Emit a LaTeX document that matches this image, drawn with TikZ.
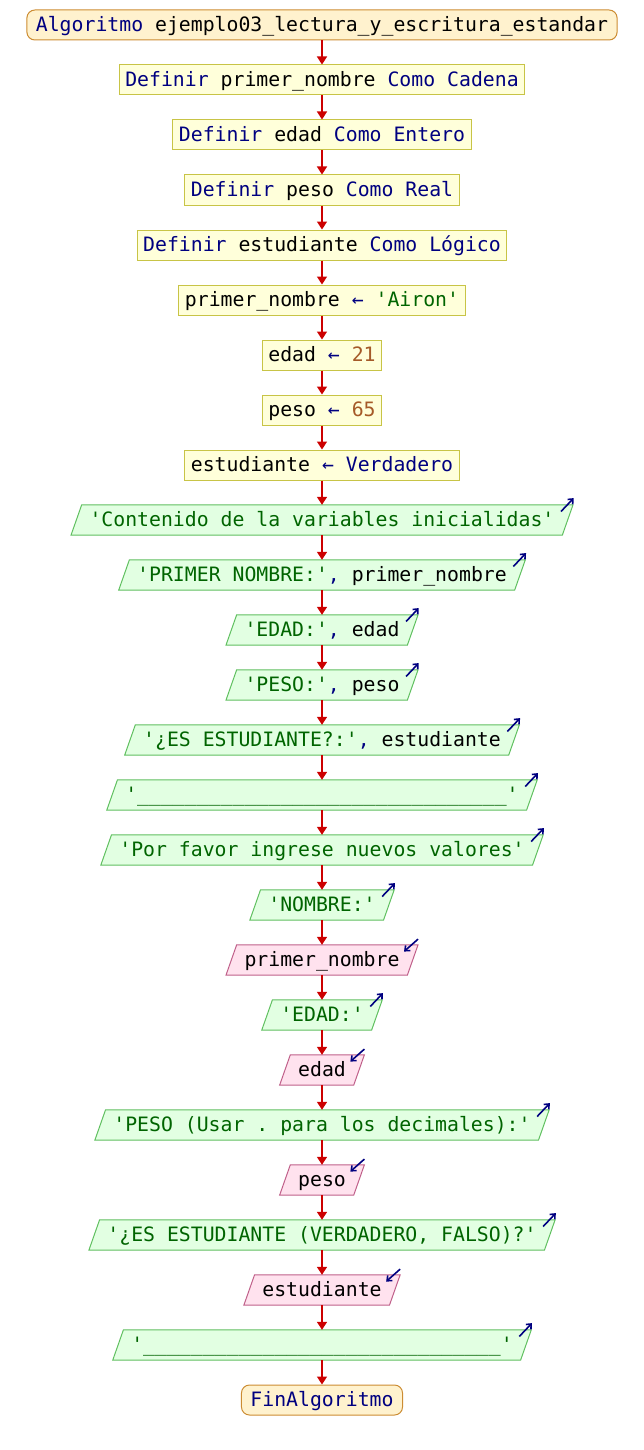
\documentclass[tikz,border=0pt]{standalone}
\usepackage{fontspec}
\setmonofont{DejaVu Sans Mono}
\usetikzlibrary{backgrounds,calc,arrows.meta}
\definecolor{kwblue}{RGB}{0,0,128}
\definecolor{strgreen}{RGB}{0,100,0}
\definecolor{numbrown}{RGB}{165,90,40}
\definecolor{procfill}{RGB}{255,255,218}
\definecolor{procdraw}{RGB}{200,196,70}
\definecolor{termfill}{RGB}{255,242,206}
\definecolor{termdraw}{RGB}{204,140,50}
\definecolor{outfill}{RGB}{226,255,226}
\definecolor{outdraw}{RGB}{96,192,96}
\definecolor{infill}{RGB}{255,226,238}
\definecolor{indraw}{RGB}{192,96,138}
\definecolor{flowred}{RGB}{204,0,0}
\newcommand\pkw[1]{\textcolor{kwblue}{#1}}
\newcommand\pstr[1]{\textcolor{strgreen}{#1}}
\newcommand\pnum[1]{\textcolor{numbrown}{#1}}
\newcommand\parashape[3]{%
  \filldraw[fill=#2,draw=#3,line width=1pt]
    ($(#1.south west)+(-5.35,0)$) -- ($(#1.north west)+(5.35,0)$) --
    ($(#1.north east)+(5.35,0)$) -- ($(#1.south east)+(-5.35,0)$) -- cycle;}
\newcommand\outarrow[1]{%
  \draw[kwblue,line width=1.6pt,-{Straight Barb[length=4pt,width=7pt]}]
    ($(#1.north east)+(5.35,0)+(-12,-6.7)$) -- ($(#1.north east)+(5.35,0)+(0.7,6.7)$);}
\newcommand\inarrow[1]{%
  \draw[kwblue,line width=1.6pt,-{Straight Barb[length=4pt,width=7pt]}]
    ($(#1.north east)+(5.35,0)+(0,5.7)$) -- ($(#1.north east)+(5.35,0)+(-14,-6.7)$);}
\tikzset{
  base/.style={font=\ttfamily\fontsize{19.8}{20}\selectfont, text height=13.4pt,
    text depth=0pt, inner ysep=8.3pt, minimum height=30pt, anchor=center},
  term/.style={base, rounded corners=8pt, fill=termfill, draw=termdraw, line width=1pt, inner xsep=9pt},
  proc/.style={base, fill=procfill, draw=procdraw, line width=1pt, inner xsep=6pt},
  outp/.style={base, inner xsep=13pt},
  inp/.style={base, inner xsep=13pt},
  flow/.style={flowred, line width=1.5pt, -{Triangle[length=8pt,width=10pt]}}
}
\begin{document}
\begin{tikzpicture}[x=1pt,y=1pt]
\useasboundingbox (0,0) rectangle (644,-1450);
\node[term] (n1) at (322,-25) {\pkw{Algoritmo} ejemplo03\_lectura\_y\_escritura\_estandar};
\node[proc] (n2) at (322,-80) {\pkw{Definir} primer\_nombre \pkw{Como Cadena}};
\node[proc] (n3) at (322,-135) {\pkw{Definir} edad \pkw{Como Entero}};
\node[proc] (n4) at (322,-190) {\pkw{Definir} peso \pkw{Como Real}};
\node[proc] (n5) at (322,-245) {\pkw{Definir} estudiante \pkw{Como Lógico}};
\node[proc] (n6) at (322,-300) {primer\_nombre \pkw{←} \pstr{'Airon'}};
\node[proc] (n7) at (322,-355) {edad \pkw{←} \pnum{21}};
\node[proc] (n8) at (322,-410) {peso \pkw{←} \pnum{65}};
\node[proc] (n9) at (322,-465) {estudiante \pkw{←} \pkw{Verdadero}};
\node[outp] (n10) at (322,-520) {\pstr{'Contenido de la variables inicialidas'}};
\node[outp] (n11) at (322,-575) {\pstr{'PRIMER NOMBRE:'}\pkw{,} primer\_nombre};
\node[outp] (n12) at (322,-630) {\pstr{'EDAD:'}\pkw{,} edad};
\node[outp] (n13) at (322,-685) {\pstr{'PESO:'}\pkw{,} peso};
\node[outp] (n14) at (322,-740) {\pstr{'¿ES ESTUDIANTE?:'}\pkw{,} estudiante};
\node[outp] (n15) at (322,-795) {\pstr{'\_\_\_\_\_\_\_\_\_\_\_\_\_\_\_\_\_\_\_\_\_\_\_\_\_\_\_\_\_\_\_'}};
\node[outp] (n16) at (322,-850) {\pstr{'Por favor ingrese nuevos valores'}};
\node[outp] (n17) at (322,-905) {\pstr{'NOMBRE:'}};
\node[inp] (n18) at (322,-960) {primer\_nombre};
\node[outp] (n19) at (322,-1015) {\pstr{'EDAD:'}};
\node[inp] (n20) at (322,-1070) {edad};
\node[outp] (n21) at (322,-1125) {\pstr{'PESO (Usar . para los decimales):'}};
\node[inp] (n22) at (322,-1180) {peso};
\node[outp] (n23) at (322,-1235) {\pstr{'¿ES ESTUDIANTE (VERDADERO, FALSO)?'}};
\node[inp] (n24) at (322,-1290) {estudiante};
\node[outp] (n25) at (322,-1345) {\pstr{'\_\_\_\_\_\_\_\_\_\_\_\_\_\_\_\_\_\_\_\_\_\_\_\_\_\_\_\_\_\_'}};
\node[term] (n26) at (322,-1400) {\pkw{FinAlgoritmo}};
\begin{scope}[on background layer]
  \foreach \n in {n10,n11,n12,n13,n14,n15,n16,n17,n19,n21,n23,n25} {\parashape{\n}{outfill}{outdraw}}
  \foreach \n in {n18,n20,n22,n24} {\parashape{\n}{infill}{indraw}}
\end{scope}
\foreach \n in {n10,n11,n12,n13,n14,n15,n16,n17,n19,n21,n23,n25} {\outarrow{\n}}
\foreach \n in {n18,n20,n22,n24} {\inarrow{\n}}
\foreach \i in {1,...,25} {
  \pgfmathtruncatemacro{\j}{\i+1}
  \draw[flow] (n\i.south) -- (n\j.north);
}
\end{tikzpicture}
\end{document}
